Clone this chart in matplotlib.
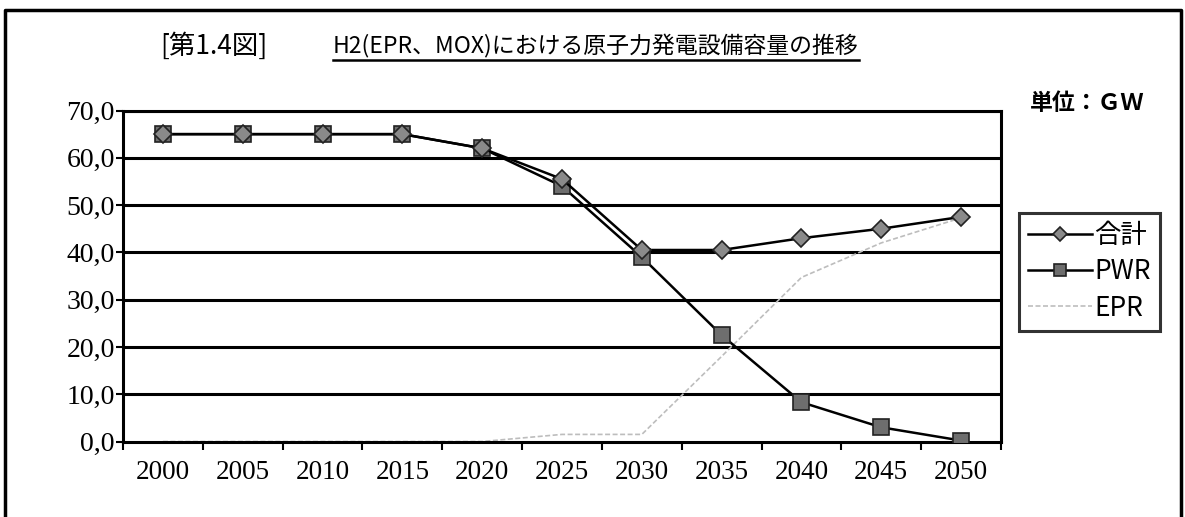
import numpy as np
import matplotlib.pyplot as plt
from matplotlib.lines import Line2D

plt.rcParams['font.family'] = ['Noto Sans CJK JP', 'DejaVu Sans']

years = ['2000', '2005', '2010', '2015', '2020', '2025', '2030', '2035', '2040', '2045', '2050']
total = [65.0, 65.0, 65.0, 65.0, 62.0, 55.5, 40.5, 40.5, 43.0, 45.0, 47.5]
pwr = [65.0, 65.0, 65.0, 65.0, 62.0, 54.0, 39.0, 22.5, 8.3, 3.0, 0.2]
epr = [0.0, 0.0, 0.0, 0.0, 0.0, 1.5, 1.5, 18.0, 34.7, 42.0, 47.3]
yticks = [0, 10, 20, 30, 40, 50, 60, 70]

fig = plt.figure(figsize=(11.85, 5.17), dpi=100)
ax = fig.add_axes([123 / 1185, 1 - 441.5 / 517, 878 / 1185, 331 / 517])

x = np.arange(len(years))

# horizontal grid
for v in yticks[1:]:
    ax.axhline(v, color='black', lw=2.2, zorder=1)

ax.plot(x, epr, color='#bdbdbd', lw=1.2, ls=(0, (3, 1.5)), zorder=2, label='EPR')
ax.plot(x, pwr, color='black', lw=1.8, marker='s', ms=11, mfc='#6e6e6e', mec='#222222',
        mew=1.2, zorder=3, label='PWR')
ax.plot(x, total, color='black', lw=1.8, marker='D', ms=9, mfc='#8a8a8a', mec='#222222',
        mew=1.2, zorder=4, label='合計')

ax.set_xlim(-0.5, len(years) - 0.5)
ax.set_ylim(0, 70)

ax.set_yticks(yticks)
ax.set_yticklabels([f'{v},0' for v in yticks], fontfamily='Liberation Serif', fontsize=20)
ax.tick_params(axis='y', direction='out', length=5, width=1.5, pad=1)

ax.set_xticks(x)
ax.set_xticklabels(years, fontfamily='Liberation Serif', fontsize=19.5)
ax.set_xticks(np.arange(-0.5, len(years)), minor=True)
ax.tick_params(axis='x', which='major', length=0, pad=13)
ax.tick_params(axis='x', which='minor', direction='out', length=6, width=1.5)

for s in ax.spines.values():
    s.set_linewidth(2.2)
    s.set_color('black')

# legend in custom order
h, l = ax.get_legend_handles_labels()
order = [2, 1, 0]
leg = fig.legend([h[i] for i in order], [l[i] for i in order],
                 loc='upper left', bbox_to_anchor=(1019 / 1185, 1 - 213 / 517),
                 fontsize=19, frameon=True, fancybox=False, handlelength=2.4,
                 handletextpad=0.1, borderpad=0.35, labelspacing=0.35, borderaxespad=0,
                 markerscale=0.75)
leg.get_frame().set_edgecolor('black')
leg.get_frame().set_linewidth(2.2)

fig.text(1030 / 1185, 1 - 104 / 517, '単位：ＧＷ', fontsize=16.5, fontweight='bold', va='center')

# title
fig.text(160 / 1185, 1 - 46 / 517, '[第1.4図]', fontsize=19, va='center')
t = fig.text(333 / 1185, 1 - 46 / 517, 'H2(EPR、MOX)における原子力発電設備容量の推移', fontsize=16.5, va='center')
fig.canvas.draw()
bb = t.get_window_extent().transformed(fig.transFigure.inverted())
fig.add_artist(Line2D([bb.x0, bb.x1], [bb.y0 - 0.004, bb.y0 - 0.004], color='black', lw=1.8,
                      transform=fig.transFigure))

# outer frame
fig.add_artist(Line2D([5 / 1185, 5 / 1185, 1181 / 1185, 1181 / 1185],
                      [0, 1 - 10 / 517, 1 - 10 / 517, 0], color='black', lw=2.5,
                      transform=fig.transFigure))

fig.savefig('out.png', dpi=100)
